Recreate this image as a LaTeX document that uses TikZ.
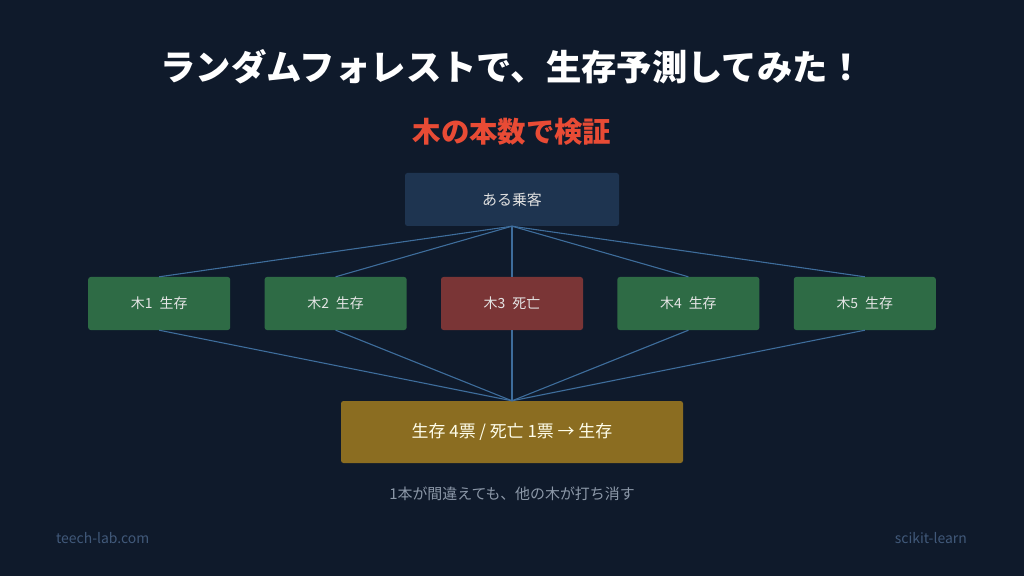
\documentclass[tikz,border=0pt]{standalone}
\usepackage{fontspec}
\setmainfont{Noto Sans CJK JP}
\usepackage{xcolor}
\usetikzlibrary{positioning}
\definecolor{bgnavy}{HTML}{0F1A2B}
\definecolor{titlered}{HTML}{E84B35}
\definecolor{boxnavy}{HTML}{1E3450}
\definecolor{livegreen}{HTML}{2E6B45}
\definecolor{deadred}{HTML}{7A3536}
\definecolor{votegold}{HTML}{8B6D21}
\definecolor{linkblue}{HTML}{3E6D9C}
\definecolor{capgray}{HTML}{8C98A8}
\definecolor{footgray}{HTML}{41597A}
\tikzstyle{link}=[draw=linkblue, line width=1.1pt]
\tikzstyle{foot}=[text=footgray, font=\fontsize{14}{16}\selectfont, inner sep=0pt]

\begin{document}
\begin{tikzpicture}[x=1bp, y=-1bp,
  tree/.style={rectangle,rounded corners=2.5bp,fill=livegreen,text=white!90!black,
    minimum width=142bp,minimum height=53bp,inner sep=0pt,font=\fontsize{14}{16}\selectfont},
  dead/.style={tree,fill=deadred}]
\fill[bgnavy] (0,0) rectangle (1024,576);
\useasboundingbox (0,0) rectangle (1024,576);
% headings
\node[text=white, font=\fontsize{35.5}{40}\selectfont\bfseries] (title) at (512,67) {ランダムフォレストで、生存予測してみた！};
\node[text=titlered, font=\fontsize{28.5}{32}\selectfont\bfseries] (sub) at (512,132) {木の本数で検証};
% passenger and trees
\node[rectangle,rounded corners=2.5bp,fill=boxnavy,text=white!88!black,minimum width=214bp,
  minimum height=53bp,inner sep=0pt,font=\fontsize{15}{17}\selectfont] (pax) at (512,199.5) {ある乗客};
\node[dead] (t3) at (512,303.5) {木3\enspace 死亡};
\node[tree,left=34bp of t3] (t2) {木2\enspace 生存};
\node[tree,left=34bp of t2] (t1) {木1\enspace 生存};
\node[tree,right=34bp of t3] (t4) {木4\enspace 生存};
\node[tree,right=34bp of t4] (t5) {木5\enspace 生存};
\node[rectangle,rounded corners=2.5bp,fill=votegold,text=white!92!yellow,minimum width=342bp,
  minimum height=62bp,inner sep=0pt,font=\fontsize{17}{19}\selectfont] (vote) at (512,432) {生存 4票 / 死亡 1票 → 生存};
\foreach \t in {t1,t2,t3,t4,t5} {
  \draw[link] (pax.south)--(\t.north);
  \draw[link] (\t.south)--(vote.north);
}
\node[text=capgray, font=\fontsize{15}{17}\selectfont] (cap) at (512,494) {1本が間違えても、他の木が打ち消す};
% footer
\node[foot,anchor=west] (site) at (56,538) {teech-lab.com};
\node[foot,anchor=east] (lib) at (967,538) {scikit-learn};
\end{tikzpicture}
\end{document}
